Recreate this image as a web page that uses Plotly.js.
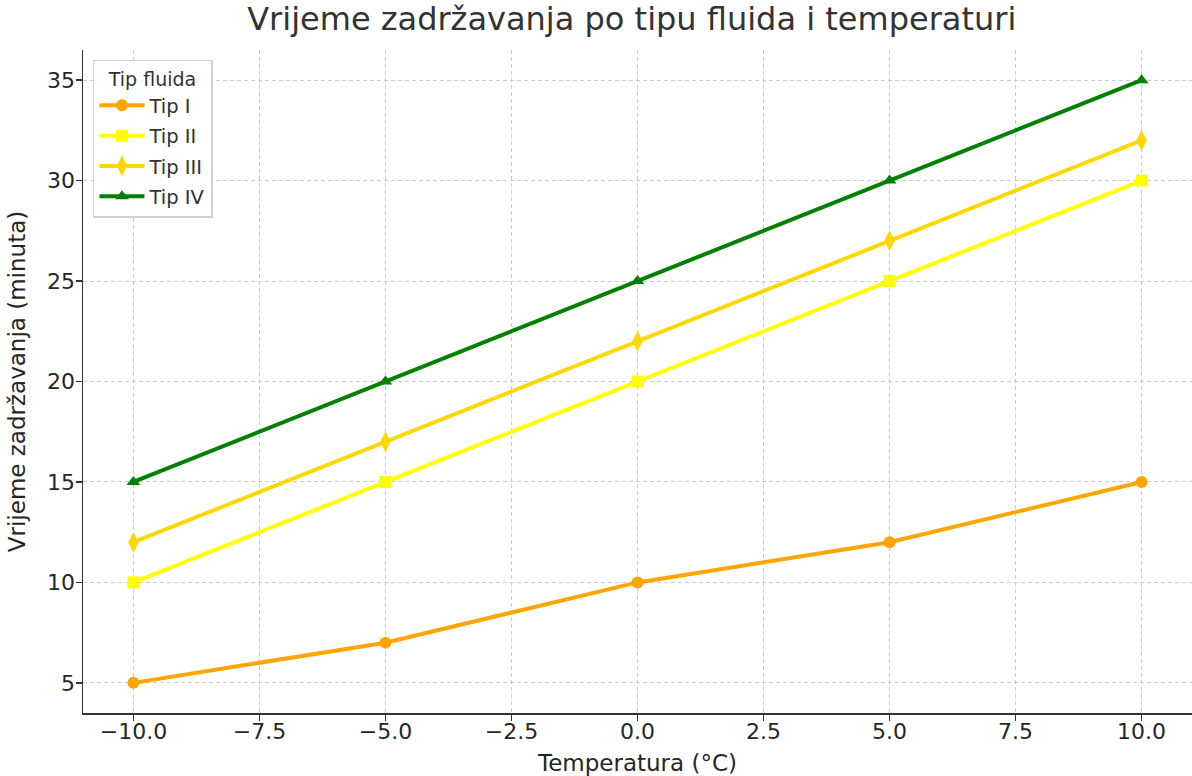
<!DOCTYPE html>
<html>
<head>
<meta charset="utf-8">
<script src="https://cdn.plot.ly/plotly-3.0.1.min.js"></script>
<style>body{margin:0;background:#fff;} #chart{width:1192px;height:776px;}</style>
</head>
<body>
<div id="chart"></div>
<script>
const temperatures = [-10, -5, 0, 5, 10];
const seriesNames = ["Tip I", "Tip II", "Tip III", "Tip IV"];
const tipI = [5, 7, 10, 12, 15];
const tipII = [10, 15, 20, 25, 30];
const tipIII = [12, 17, 22, 27, 32];
const tipIV = [15, 20, 25, 30, 35];
const colors = ["#FFA500", "#FFFF00", "#FFD700", "#008000"];
const symbols = ["circle", "square", "diamond-tall", "triangle-up"];
const values = [tipI, tipII, tipIII, tipIV];
const xTicks = [-10, -7.5, -5, -2.5, 0, 2.5, 5, 7.5, 10];
const xTickText = ["\u221210.0", "\u22127.5", "\u22125.0", "\u22122.5", "0.0", "2.5", "5.0", "7.5", "10.0"];
const yTicks = [5, 10, 15, 20, 25, 30, 35];

const traces = values.map((v, i) => ({
  x: temperatures, y: v, name: seriesNames[i], type: "scatter", mode: "lines+markers",
  legendgroup: "g" + i,
  line: {color: colors[i], width: 4},
  marker: {color: colors[i], symbol: symbols[i], size: symbols[i] === "diamond-tall" ? 15 : 12}
}));

const font = "DejaVu Sans, sans-serif";
const layout = {
  width: 1192, height: 776,
  margin: {l: 83, r: 0, t: 50, b: 63},
  paper_bgcolor: "#fff", plot_bgcolor: "#fff",
  font: {family: font, color: "#262626"},
  title: {text: "Vrijeme zadržavanja po tipu fluida i temperaturi", font: {size: 32, color: "#333", family: font}, x: 0.53, xanchor: "center", y: 0.99, yanchor: "top"},
  xaxis: {
    range: [-11, 11], tickvals: xTicks, ticktext: xTickText,
    ticks: "outside", ticklen: 6, tickwidth: 1.5, tickcolor: "#333",
    ticklabelstandoff: -8,
    showline: true, linecolor: "#333", linewidth: 1.5, mirror: false,
    showgrid: true, gridcolor: "#cccccc", griddash: "4px,3px", gridwidth: 1,
    zeroline: false, tickfont: {size: 22, color: "#262626"},
    title: {text: "Temperatura (°C)", font: {size: 23, color: "#262626"}, standoff: 12}
  },
  yaxis: {
    range: [3.5, 36.5], tickvals: yTicks,
    ticks: "outside", ticklen: 6, tickwidth: 1.5, tickcolor: "#333",
    ticklabelstandoff: -4,
    showline: true, linecolor: "#333", linewidth: 1.5, mirror: false,
    showgrid: true, gridcolor: "#cccccc", griddash: "4px,3px", gridwidth: 1,
    zeroline: false, tickfont: {size: 22, color: "#262626"},
    title: {text: "Vrijeme zadržavanja (minuta)", font: {size: 23, color: "#262626"}, standoff: 15}
  },
  legend: {
    x: 0.009, y: 0.985, xanchor: "left", yanchor: "top",
    bgcolor: "rgba(255,255,255,0.85)", bordercolor: "#d0d0d0", borderwidth: 1.5,
    font: {size: 19.5, color: "#333"},
    title: {text: "Tip fluida", side: "top center", font: {size: 19, color: "#333"}},
    tracegroupgap: 2, itemwidth: 45
  },
  showlegend: true
};
Plotly.newPlot("chart", traces, layout, {displayModeBar: false, staticPlot: true});
</script>
</body>
</html>
